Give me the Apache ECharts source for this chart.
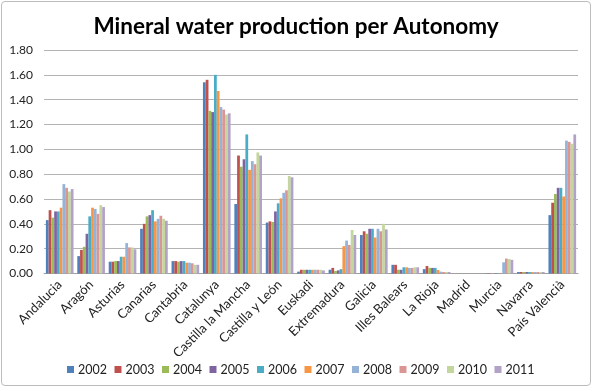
<!DOCTYPE html>
<html><head><meta charset="utf-8">
<script src="https://cdn.jsdelivr.net/npm/echarts@6/dist/echarts.min.js"></script>
<style>
html,body{margin:0;padding:0;background:#fff;}
#frame{position:absolute;left:1px;top:1px;width:588px;height:383px;border:1px solid #bcbcbc;border-radius:4px;}
#c{position:absolute;left:0;top:0;width:592px;height:387px;}
</style></head>
<body><div id="frame"></div><div id="c"></div>
<script>
const categories = ["Andalucia","Aragón","Asturias","Canarias","Cantabria","Catalunya","Castilla la Mancha","Castilla y León","Euskadi","Extremadura","Galicia","Illes Balears","La Rioja","Madrid","Murcia","Navarra","País Valencià"];
const years = ["2002","2003","2004","2005","2006","2007","2008","2009","2010","2011"];
const yTicks = [0,0.2,0.4,0.6,0.8,1.0,1.2,1.4,1.6,1.8];
const colors = ["#4F81BD","#C0504D","#9BBB59","#8064A2","#4BACC6","#F79646","#95B3D7","#D99694","#C3D69B","#B3A2C7"];
// values per year, ordered as categories
const v2002 = [0.43,0.14,0.095,0.36,0.10,1.54,0.56,0.41,0.015,0.03,0.31,0.07,0.035,0,0.003,0.012,0.47];
const v2003 = [0.51,0.19,0.095,0.40,0.10,1.56,0.95,0.42,0.03,0.045,0.34,0.07,0.06,0,0.003,0.012,0.57];
const v2004 = [0.45,0.215,0.10,0.46,0.095,1.31,0.86,0.415,0.03,0.02,0.32,0.03,0.045,0,0.003,0.012,0.64];
const v2005 = [0.50,0.32,0.10,0.47,0.10,1.30,0.92,0.50,0.03,0.025,0.36,0.03,0.045,0,0.003,0.012,0.69];
const v2006 = [0.50,0.46,0.135,0.51,0.10,1.60,1.12,0.565,0.03,0.035,0.36,0.05,0.045,0,0.003,0.012,0.69];
const v2007 = [0.53,0.53,0.135,0.42,0.087,1.47,0.835,0.605,0.03,0.22,0.29,0.05,0.028,0,0.003,0.012,0.62];
const v2008 = [0.72,0.52,0.245,0.44,0.087,1.34,0.905,0.65,0.03,0.265,0.36,0.045,0.015,0,0.09,0.012,1.07];
const v2009 = [0.69,0.48,0.21,0.465,0.082,1.32,0.88,0.67,0.03,0.23,0.34,0.045,0.012,0,0.12,0.012,1.06];
const v2010 = [0.66,0.55,0.21,0.44,0.07,1.28,0.975,0.785,0.03,0.35,0.40,0.05,0.012,0,0.117,0.012,1.045];
const v2011 = [0.68,0.535,0.195,0.425,0.07,1.29,0.95,0.775,0.025,0.31,0.355,0.05,0.012,0,0.11,0.012,1.12];
const seriesValues = [v2002,v2003,v2004,v2005,v2006,v2007,v2008,v2009,v2010,v2011];

const chart = echarts.init(document.getElementById('c'), null, {renderer:'canvas'});
const FONT = 'Lato, "Open Sans", sans-serif';
chart.setOption({
  animation:false,
  color: colors,
  title:{text:"Mineral water production per Autonomy",left:'center',top:10,
    textStyle:{fontFamily:FONT,fontWeight:'bold',fontSize:22.5,color:'#000'}},
  grid:{left:44,right:14,top:50,bottom:113.5,containLabel:false},
  legend:{bottom:6,left:62,width:520,itemWidth:7,itemHeight:7,itemGap:7.5,icon:'rect',
    textStyle:{fontFamily:FONT,fontSize:12.5,color:'#222',padding:[0,0,0,-1]},
    data:years},
  xAxis:{type:'category',data:categories,
    axisLine:{lineStyle:{color:'#a0a0a0'}},axisTick:{show:false},
    axisLabel:{rotate:45,interval:0,fontFamily:FONT,fontSize:13,color:'#222',margin:9}},
  yAxis:{type:'value',min:0,max:1.8,interval:0.2,
    axisLine:{show:false},axisTick:{show:false},
    splitLine:{lineStyle:{color:'#b4b4b4',width:1}},
    axisLabel:{fontFamily:FONT,fontSize:12,color:'#222',margin:11,
      formatter:v=>v.toFixed(2)}},
  series: years.map((y,i)=>({name:y,type:'bar',data:seriesValues[i],
    barGap:'0%',barCategoryGap:'12%'}))
});
</script></body></html>
